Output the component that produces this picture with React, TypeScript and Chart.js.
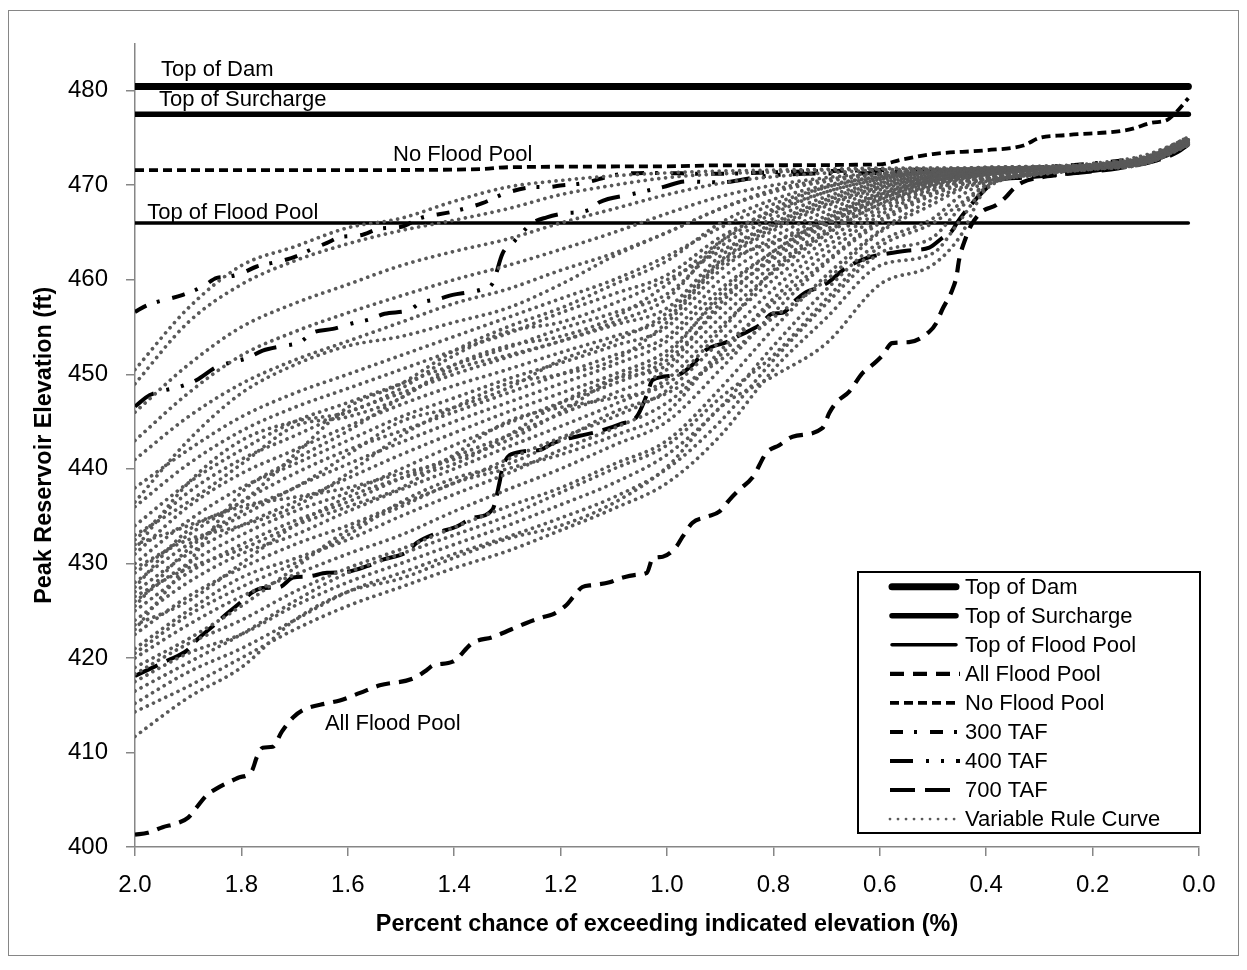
import React, { useEffect, useRef } from "react";
import { Chart, registerables } from "chart.js";
Chart.register(...registerables);

const FONT = '"Liberation Sans", Arial, sans-serif';

// ---------- data ----------
const X_TICK_STEP = 0.2;
const Y_TICK_STEP = 10;
const REF_X = [2.0, 0.02];
const TOP_OF_DAM = 480.45;
const TOP_OF_SURCHARGE = 477.5;
const TOP_OF_FLOOD_POOL = 466.0;

const ALL_FLOOD_POOL = [
  [2.0, 401.3], [1.976, 401.5], [1.948, 402.1], [1.921, 402.5], [1.9, 403.1], [1.884, 404.2], [1.865, 405.5],
  [1.846, 406.2], [1.807, 407.3], [1.78, 408.1], [1.771, 409.5], [1.76, 410.5], [1.741, 410.6], [1.724, 412.2],
  [1.703, 413.7], [1.684, 414.5], [1.639, 415.2], [1.615, 415.5], [1.577, 416.3], [1.54, 417.1], [1.478, 417.8],
  [1.452, 418.7], [1.44, 419.2], [1.403, 419.6], [1.365, 421.6], [1.328, 422.2], [1.264, 423.7], [1.234, 424.3],
  [1.215, 424.6], [1.189, 425.6], [1.177, 426.4], [1.159, 427.5], [1.14, 427.7], [1.108, 428.0], [1.089, 428.4],
  [1.057, 428.8], [1.038, 429.0], [1.027, 430.5], [1.008, 430.7], [0.982, 431.8], [0.971, 432.8], [0.952, 434.3],
  [0.926, 434.9], [0.901, 435.5], [0.883, 436.7], [0.864, 437.8], [0.839, 439.1], [0.813, 441.7], [0.789, 442.5],
  [0.764, 443.4], [0.708, 444.3], [0.695, 445.9], [0.682, 447.0], [0.657, 448.2], [0.633, 450.1], [0.62, 450.7],
  [0.595, 452.0], [0.577, 453.3], [0.545, 453.4], [0.507, 454.5], [0.494, 455.4], [0.483, 456.8], [0.464, 458.9],
  [0.456, 460.3], [0.451, 462.1], [0.438, 464.5], [0.428, 465.8], [0.408, 467.2], [0.381, 467.9], [0.362, 468.8],
  [0.351, 469.5], [0.332, 470.3], [0.3, 470.8], [0.263, 471.1], [0.22, 471.4], [0.15, 471.9], [0.1, 472.5],
  [0.05, 473.4], [0.02, 474.6],
];

const NO_FLOOD_POOL = [
  [2.0, 471.6], [1.6, 471.6], [1.35, 471.7], [1.3, 471.9], [1.0, 472.0], [0.9, 472.1], [0.6, 472.2],
  [0.56, 472.7], [0.5, 473.3], [0.4, 473.7], [0.33, 474.2], [0.3, 475.0], [0.25, 475.3], [0.13, 475.9],
  [0.09, 476.6], [0.06, 476.9], [0.045, 477.6], [0.02, 479.2],
];

const TAF_300 = [
  [2.0, 456.6], [1.977, 457.3], [1.91, 458.4], [1.872, 459.3], [1.846, 460.2], [1.827, 460.3], [1.799, 460.7],
  [1.771, 461.4], [1.724, 462.0], [1.696, 462.5], [1.677, 463.0], [1.639, 463.9], [1.615, 464.5], [1.577, 464.7],
  [1.54, 465.4], [1.499, 465.6], [1.465, 466.5], [1.403, 467.2], [1.347, 468.1], [1.301, 469.2], [1.245, 469.8],
  [1.226, 469.8], [1.196, 470.0], [1.159, 470.2], [1.095, 471.1], [1.033, 471.3], [0.907, 471.2], [0.78, 471.4],
  [0.6, 471.6], [0.4, 471.7], [0.3, 471.9], [0.2, 472.3], [0.1, 473.0], [0.05, 473.8], [0.02, 474.6],
];

const TAF_400 = [
  [2.0, 446.6], [1.972, 447.8], [1.915, 448.7], [1.884, 449.4], [1.846, 450.8], [1.816, 451.3], [1.79, 451.7],
  [1.76, 452.5], [1.722, 453.0], [1.69, 453.4], [1.666, 454.4], [1.628, 454.8], [1.591, 455.4], [1.559, 455.8],
  [1.531, 456.4], [1.484, 456.8], [1.465, 457.5], [1.427, 458.0], [1.403, 458.4], [1.371, 458.7], [1.347, 459.0],
  [1.328, 459.6], [1.309, 462.8], [1.29, 463.9], [1.253, 466.0], [1.226, 466.6], [1.196, 467.0], [1.146, 467.4],
  [1.127, 468.2], [1.07, 469.0], [1.008, 469.8], [0.963, 470.4], [0.9, 470.3], [0.826, 470.9], [0.79, 471.1],
  [0.6, 471.3], [0.45, 471.5], [0.3, 471.7], [0.2, 472.0], [0.1, 472.7], [0.05, 473.5], [0.02, 474.5],
];

const TAF_700 = [
  [2.0, 418.1], [1.985, 418.5], [1.94, 419.7], [1.902, 420.8], [1.884, 421.9], [1.859, 423.1], [1.827, 424.7],
  [1.803, 425.8], [1.778, 427.0], [1.76, 427.4], [1.728, 427.5], [1.703, 428.5], [1.677, 428.6], [1.639, 429.0],
  [1.602, 429.1], [1.564, 429.7], [1.534, 430.4], [1.489, 431.2], [1.47, 432.2], [1.433, 433.2], [1.395, 433.9],
  [1.365, 434.8], [1.328, 435.7], [1.315, 438.5], [1.309, 440.2], [1.283, 441.7], [1.239, 442.0], [1.215, 442.7],
  [1.164, 443.5], [1.132, 443.9], [1.084, 444.8], [1.057, 445.5], [1.038, 447.8], [1.027, 449.4], [0.982, 449.9],
  [0.952, 451.0], [0.926, 452.6], [0.888, 453.4], [0.864, 454.1], [0.826, 455.2], [0.802, 456.4], [0.783, 456.5],
  [0.757, 457.9], [0.738, 458.7], [0.719, 459.1], [0.695, 459.8], [0.67, 461.0], [0.625, 462.3], [0.582, 462.8],
  [0.545, 463.1], [0.507, 463.4], [0.483, 464.4], [0.464, 465.2], [0.454, 466.1], [0.432, 467.7], [0.408, 469.2],
  [0.381, 470.5], [0.332, 470.8], [0.25, 471.2], [0.15, 471.8], [0.08, 472.6], [0.04, 473.5], [0.02, 474.3],
];

// Variable rule curves: values at VRC_X
const VRC_X = [2.0, 1.9, 1.8, 1.7, 1.6, 1.5, 1.4, 1.3, 1.2, 1.1, 1.0, 0.9, 0.8, 0.7, 0.6, 0.5, 0.45, 0.4, 0.3, 0.2, 0.1, 0.02];
const VRC_01 = [450.5, 457.0, 461.5, 463.5, 465.5, 466.5, 468.3, 469.8, 470.5, 471.0, 471.3, 471.5, 471.6, 471.7, 471.8, 471.8, 471.8, 471.9, 472.0, 472.3, 473.2, 475.0];
const VRC_02 = [449.0, 455.5, 459.5, 462.0, 463.8, 465.2, 466.3, 467.5, 469.0, 470.0, 470.8, 471.2, 471.4, 471.6, 471.7, 471.8, 471.8, 471.9, 472.0, 472.2, 473.0, 474.8];
const VRC_03 = [446.0, 451.0, 455.0, 457.5, 459.5, 461.5, 463.0, 464.3, 466.0, 467.5, 469.0, 470.2, 470.9, 471.3, 471.6, 471.7, 471.7, 471.8, 471.9, 472.2, 473.0, 474.8];
const VRC_04 = [443.0, 448.0, 452.0, 454.5, 456.5, 458.3, 460.0, 461.5, 463.2, 465.0, 467.0, 468.8, 470.0, 470.8, 471.3, 471.6, 471.7, 471.8, 471.9, 472.1, 472.9, 474.7];
const VRC_05 = [441.0, 445.5, 449.0, 451.5, 453.5, 455.5, 457.5, 459.0, 461.0, 462.8, 465.0, 467.5, 469.3, 470.4, 471.1, 471.5, 471.6, 471.7, 471.9, 472.1, 472.9, 474.8];
const VRC_06 = [438.0, 442.0, 445.5, 448.0, 450.0, 452.0, 454.0, 456.0, 458.0, 460.0, 462.5, 465.5, 468.0, 469.8, 470.8, 471.4, 471.5, 471.7, 471.8, 472.1, 472.9, 474.7];
const VRC_07 = [436.0, 440.5, 444.0, 446.5, 448.5, 450.5, 452.5, 454.3, 456.5, 458.5, 460.5, 464.5, 467.3, 469.3, 470.6, 471.3, 471.5, 471.6, 471.8, 472.1, 472.8, 474.6];
const VRC_08 = [434.0, 438.5, 442.0, 445.0, 447.0, 449.0, 451.0, 452.8, 454.8, 456.5, 458.5, 463.5, 466.5, 468.8, 470.3, 471.1, 471.4, 471.6, 471.8, 472.0, 472.8, 474.9];
const VRC_09 = [432.5, 437.5, 441.0, 443.5, 446.0, 448.0, 450.0, 451.8, 453.5, 455.2, 457.0, 462.5, 465.8, 468.3, 470.0, 471.0, 471.3, 471.5, 471.8, 472.0, 472.8, 474.6];
const VRC_10 = [431.0, 436.0, 439.5, 442.0, 444.5, 446.8, 448.8, 450.5, 452.3, 454.0, 456.0, 461.8, 465.2, 467.8, 469.7, 470.9, 471.2, 471.5, 471.7, 472.0, 472.7, 474.5];
const VRC_11 = [430.0, 434.5, 438.0, 440.5, 443.0, 445.5, 447.5, 449.5, 451.2, 453.0, 455.0, 461.0, 464.5, 467.3, 469.5, 470.8, 471.2, 471.5, 471.7, 472.0, 472.7, 474.8];
const VRC_12 = [429.0, 433.0, 436.5, 439.5, 442.0, 444.0, 446.0, 448.0, 450.0, 452.0, 454.0, 460.0, 463.8, 466.8, 469.2, 470.7, 471.1, 471.4, 471.7, 471.9, 472.7, 474.5];
const VRC_13 = [428.0, 432.0, 435.0, 438.0, 440.5, 442.8, 445.0, 447.0, 449.0, 451.0, 453.5, 459.0, 463.0, 466.3, 469.0, 470.6, 471.0, 471.4, 471.7, 471.9, 472.6, 474.6];
const VRC_14 = [427.0, 431.0, 434.0, 436.5, 439.0, 441.5, 443.8, 446.0, 448.0, 450.0, 452.5, 458.0, 462.2, 465.8, 468.7, 470.5, 470.9, 471.3, 471.6, 471.9, 472.6, 474.4];
const VRC_15 = [426.0, 430.0, 433.0, 435.5, 437.5, 440.0, 442.5, 444.8, 447.0, 449.0, 451.5, 457.0, 461.5, 465.3, 468.4, 470.3, 470.8, 471.2, 471.6, 471.9, 472.6, 474.7];
const VRC_16 = [425.0, 429.0, 432.0, 434.5, 436.5, 439.0, 441.3, 443.5, 445.8, 448.0, 450.5, 456.0, 460.8, 464.8, 468.0, 470.1, 470.7, 471.1, 471.6, 471.9, 472.5, 474.5];
const VRC_17 = [424.0, 428.0, 431.0, 433.0, 435.5, 437.8, 440.0, 442.3, 444.5, 446.8, 449.5, 455.0, 460.0, 464.2, 467.6, 469.9, 470.5, 471.0, 471.5, 471.9, 472.5, 474.3];
const VRC_18 = [422.5, 426.5, 429.5, 432.0, 434.0, 436.3, 438.5, 441.0, 443.3, 445.5, 448.3, 453.5, 459.0, 463.5, 467.2, 469.7, 470.4, 470.9, 471.5, 471.8, 472.5, 474.6];
const VRC_19 = [421.0, 425.0, 428.5, 430.5, 432.5, 435.0, 437.3, 439.5, 442.0, 444.3, 447.0, 452.0, 458.0, 462.8, 466.8, 469.5, 470.3, 470.8, 471.4, 471.8, 472.4, 474.4];
const VRC_20 = [420.0, 423.5, 426.5, 428.8, 431.0, 433.0, 435.5, 437.8, 440.0, 442.5, 445.0, 450.5, 456.5, 461.8, 466.0, 469.0, 470.0, 470.6, 471.4, 471.8, 472.4, 474.5];
const VRC_21 = [418.3, 421.5, 424.0, 427.0, 429.5, 431.5, 433.8, 436.0, 438.0, 440.5, 443.0, 448.5, 454.8, 460.5, 465.2, 468.5, 469.7, 470.5, 471.3, 471.8, 472.4, 474.3];
const VRC_22 = [417.5, 420.5, 422.5, 425.5, 428.0, 430.0, 432.0, 434.0, 436.2, 438.5, 441.5, 446.5, 453.0, 459.0, 464.0, 466.5, 468.8, 470.3, 471.3, 471.7, 472.3, 474.4];
const VRC_23 = [415.2, 418.5, 421.0, 424.0, 427.0, 429.0, 431.0, 432.8, 434.8, 437.0, 440.0, 445.0, 451.5, 457.5, 462.8, 464.5, 467.5, 470.0, 471.2, 471.7, 472.3, 474.3];
const VRC_24 = [414.3, 417.0, 420.0, 423.0, 425.5, 427.5, 429.5, 431.3, 433.5, 435.8, 438.5, 443.5, 450.5, 456.0, 461.5, 462.8, 466.2, 469.8, 471.1, 471.7, 472.3, 474.2];
const VRC_25 = [411.7, 415.8, 419.0, 424.0, 427.0, 428.4, 430.6, 432.6, 434.0, 436.4, 440.2, 446.5, 449.8, 453.3, 459.5, 461.6, 464.5, 469.6, 471.2, 471.9, 472.8, 474.4];
const VRC_26 = [423.0, 430.0, 437.5, 441.0, 444.0, 447.5, 450.5, 452.0, 453.5, 455.5, 458.0, 464.0, 467.5, 469.8, 470.9, 471.5, 471.6, 471.7, 471.8, 472.1, 472.9, 474.9];
const VRC_27 = [427.5, 433.5, 436.0, 437.0, 438.0, 439.5, 441.0, 443.0, 446.0, 449.5, 452.0, 458.5, 463.0, 466.5, 469.0, 470.5, 470.9, 471.3, 471.7, 472.0, 472.7, 474.6];
const VRC_28 = [432.0, 434.0, 436.5, 441.5, 446.5, 449.0, 452.5, 455.0, 457.0, 459.5, 462.0, 466.0, 468.5, 470.0, 470.9, 471.4, 471.6, 471.7, 471.8, 472.1, 472.9, 475.1];
const VRC_29 = [419.0, 422.0, 425.5, 429.5, 433.5, 436.0, 438.5, 440.0, 441.5, 443.5, 446.0, 452.5, 457.5, 462.0, 466.3, 469.2, 470.1, 470.7, 471.4, 471.8, 472.4, 474.4];
const VRC_30 = [436.5, 443.0, 448.0, 451.0, 453.0, 454.0, 455.5, 457.0, 459.5, 462.5, 465.0, 467.5, 469.5, 470.6, 471.2, 471.6, 471.7, 471.8, 471.9, 472.2, 473.0, 475.1];
const VRC_31 = [433.0, 436.5, 440.5, 444.5, 445.5, 447.5, 451.0, 453.0, 454.0, 456.0, 459.5, 464.0, 467.0, 469.3, 470.6, 471.3, 471.5, 471.6, 471.8, 472.1, 472.8, 474.8];
const VRC_32 = [425.5, 431.5, 435.5, 438.0, 441.5, 445.0, 446.5, 448.5, 451.5, 453.5, 456.5, 462.0, 465.5, 468.0, 469.8, 470.9, 471.2, 471.5, 471.7, 472.0, 472.7, 474.6];
const VRC_33 = [429.5, 432.5, 434.0, 436.0, 439.5, 443.5, 446.5, 449.0, 450.0, 451.5, 455.5, 461.5, 464.0, 466.0, 468.5, 470.4, 470.9, 471.3, 471.7, 472.0, 472.7, 474.7];
const VRC_34 = [423.5, 426.0, 430.0, 434.0, 437.0, 439.0, 440.5, 443.5, 447.0, 449.5, 451.0, 457.5, 462.5, 466.0, 468.6, 470.4, 470.9, 471.3, 471.7, 472.0, 472.6, 474.5];
const VRC_35 = [426.5, 429.5, 431.5, 434.0, 436.0, 438.0, 441.5, 445.0, 446.5, 447.5, 449.0, 454.5, 461.0, 465.0, 468.0, 470.0, 470.6, 471.1, 471.6, 471.9, 472.5, 474.3];
const VRC_36 = [431.5, 438.5, 443.0, 445.0, 446.0, 448.5, 452.0, 454.5, 455.5, 457.5, 460.0, 463.0, 466.0, 468.5, 470.2, 471.1, 471.4, 471.6, 471.8, 472.1, 472.8, 474.9];
const VRC_37 = [420.5, 424.5, 427.5, 430.0, 433.0, 436.5, 439.0, 440.5, 443.0, 446.0, 448.0, 451.5, 456.0, 460.0, 465.0, 468.0, 469.5, 470.4, 471.3, 471.8, 472.4, 474.3];
const VRC_38 = [416.5, 419.5, 422.5, 426.0, 429.0, 431.0, 433.0, 435.0, 437.5, 440.0, 442.5, 447.5, 452.0, 458.0, 463.5, 466.0, 468.0, 470.0, 471.2, 471.7, 472.3, 474.3];
const VRC_CURVES = [
  VRC_01, VRC_02, VRC_03, VRC_04, VRC_05, VRC_06, VRC_07, VRC_08, VRC_09, VRC_10,
  VRC_11, VRC_12, VRC_13, VRC_14, VRC_15, VRC_16, VRC_17, VRC_18, VRC_19, VRC_20,
  VRC_21, VRC_22, VRC_23, VRC_24, VRC_25, VRC_26, VRC_27, VRC_28, VRC_29, VRC_30,
  VRC_31, VRC_32, VRC_33, VRC_34, VRC_35, VRC_36, VRC_37, VRC_38,
];

const ANNOTATIONS = [
  { text: "Top of Dam", x: 1.951, y: 482.2 },
  { text: "Top of Surcharge", x: 1.955, y: 479.0 },
  { text: "No Flood Pool", x: 1.515, y: 473.2 },
  { text: "Top of Flood Pool", x: 1.977, y: 467.1 },
  { text: "All Flood Pool", x: 1.643, y: 413.0 },
];

// ---------- styles ----------
const GRAY = "#595959";
const AXIS_GRAY = "#868686";
const STYLES = {
  dam: { label: "Top of Dam", width: 7, dash: [], cap: "round", color: "#000" },
  surcharge: { label: "Top of Surcharge", width: 5.5, dash: [], cap: "round", color: "#000" },
  flood: { label: "Top of Flood Pool", width: 3.5, dash: [], cap: "round", color: "#000" },
  all: { label: "All Flood Pool", width: 4.2, dash: [14, 9], cap: "butt", color: "#000" },
  none: { label: "No Flood Pool", width: 3.8, dash: [9, 5], cap: "butt", color: "#000" },
  t300: { label: "300 TAF", width: 4, dash: [13, 11, 3, 13], cap: "butt", color: "#000" },
  t400: { label: "400 TAF", width: 4, dash: [23, 13, 3, 12, 3, 12], cap: "butt", color: "#000" },
  t700: { label: "700 TAF", width: 4, dash: [25, 10], cap: "butt", color: "#000" },
  vrc: { label: "Variable Rule Curve", width: 3.7, dash: [0.01, 6.8], cap: "round", color: GRAY },
};
const LEGEND_ORDER = ["dam", "surcharge", "flood", "all", "none", "t300", "t400", "t700", "vrc"];

function toPts(pairs) {
  return pairs.map(([x, y]) => ({ x, y }));
}

function lineDataset(key, data, extra = {}) {
  const s = STYLES[key];
  return {
    label: s.label,
    data,
    borderColor: s.color,
    borderWidth: s.width,
    borderDash: s.dash,
    borderCapStyle: s.cap,
    borderJoinStyle: "round",
    pointRadius: 0,
    fill: false,
    cubicInterpolationMode: "monotone",
    ...extra,
  };
}

const overlayPlugin = {
  id: "overlay",
  afterDatasetsDraw(chart) {
    const { ctx, chartArea: ca, scales } = chart;
    const xs = scales.x;
    const ys = scales.y;
    ctx.save();
    ctx.font = `22px ${FONT}`;
    ctx.textBaseline = "middle";
    ctx.textAlign = "left";
    ctx.fillStyle = "#000";
    for (const a of ANNOTATIONS) {
      ctx.fillText(a.text, xs.getPixelForValue(a.x), ys.getPixelForValue(a.y));
    }
    // legend box
    const w = 342;
    const h = 261;
    const left = ca.right + 1 - w;
    const top = ca.bottom - 14 - h;
    ctx.fillStyle = "#fff";
    ctx.fillRect(left, top, w, h);
    ctx.setLineDash([]);
    ctx.lineWidth = 2;
    ctx.strokeStyle = "#000";
    ctx.strokeRect(left, top, w, h);
    LEGEND_ORDER.forEach((key, i) => {
      const s = STYLES[key];
      const cy = top + 14.7 + 29.05 * i;
      ctx.beginPath();
      ctx.setLineDash(key === "vrc" ? [0.01, 8] : s.dash);
      ctx.lineWidth = key === "vrc" ? 2.8 : s.width;
      ctx.lineCap = s.cap;
      ctx.strokeStyle = s.color;
      const x0 = s.cap === "round" && key !== "vrc" ? left + 34 : left + 32;
      const x1 = s.cap === "round" && key !== "vrc" ? left + 98 : left + 102;
      ctx.moveTo(x0, cy);
      ctx.lineTo(x1, cy);
      ctx.stroke();
      ctx.setLineDash([]);
      ctx.fillStyle = "#000";
      ctx.fillText(s.label, left + 107, cy + 1);
    });
    ctx.restore();
  },
};

export default function App() {
  const ref = useRef(null);
  useEffect(() => {
    const vrcSets = VRC_CURVES.map((ys, i) =>
      lineDataset("vrc", VRC_X.map((x, k) => ({ x, y: ys[k] })), { label: `Variable Rule Curve ${i + 1}` })
    );
    const datasets = [
      ...vrcSets,
      lineDataset("t700", toPts(TAF_700)),
      lineDataset("t400", toPts(TAF_400)),
      lineDataset("t300", toPts(TAF_300)),
      lineDataset("none", toPts(NO_FLOOD_POOL)),
      lineDataset("all", toPts(ALL_FLOOD_POOL)),
      lineDataset("flood", REF_X.map((x) => ({ x, y: TOP_OF_FLOOD_POOL }))),
      lineDataset("surcharge", REF_X.map((x) => ({ x, y: TOP_OF_SURCHARGE }))),
      lineDataset("dam", REF_X.map((x) => ({ x, y: TOP_OF_DAM }))),
    ];
    const chart = new Chart(ref.current, {
      type: "line",
      data: { datasets },
      plugins: [overlayPlugin],
      options: {
        responsive: false,
        animation: false,
        layout: { padding: { top: 32, right: 39, left: 0, bottom: 0 } },
        plugins: { legend: { display: false }, tooltip: { enabled: false } },
        scales: {
          x: {
            type: "linear",
            min: 0,
            max: 2,
            reverse: true,
            ticks: {
              stepSize: X_TICK_STEP,
              autoSkip: false,
              maxRotation: 0,
              callback: (v) => Number(v).toFixed(1),
              font: { family: FONT, size: 24 },
              color: "#000",
              padding: 15,
            },
            grid: { drawOnChartArea: false, drawTicks: true, tickLength: 9, color: AXIS_GRAY, lineWidth: 1.5 },
            border: { color: AXIS_GRAY, width: 1.5 },
            title: {
              display: true,
              text: "Percent chance of exceeding indicated elevation (%)",
              font: { family: FONT, size: 23.4, weight: "bold" },
              color: "#000",
              padding: { top: 0, bottom: 16 },
            },
            afterFit: (s) => {
              s.height = 108;
            },
          },
          y: {
            type: "linear",
            min: 400,
            max: 485,
            ticks: {
              stepSize: Y_TICK_STEP,
              includeBounds: false,
              font: { family: FONT, size: 24 },
              color: "#000",
              padding: 18,
            },
            grid: { drawOnChartArea: false, drawTicks: true, tickLength: 9, color: AXIS_GRAY, lineWidth: 1.5 },
            border: { color: AXIS_GRAY, width: 1.5 },
            title: {
              display: true,
              text: "Peak Reservoir Elevation (ft)",
              font: { family: FONT, size: 23.4, weight: "bold" },
              color: "#000",
              padding: { top: 22, bottom: 0 },
            },
            afterFit: (s) => {
              s.width = 126;
            },
          },
        },
      },
    });
    return () => chart.destroy();
  }, []);
  return (
    <div
      style={{
        width: 1229,
        height: 944,
        border: `1px solid ${AXIS_GRAY}`,
        marginTop: 2,
        background: "#fff",
      }}
    >
      <canvas ref={ref} width={1229} height={944} style={{ display: "block" }} />
    </div>
  );
}
